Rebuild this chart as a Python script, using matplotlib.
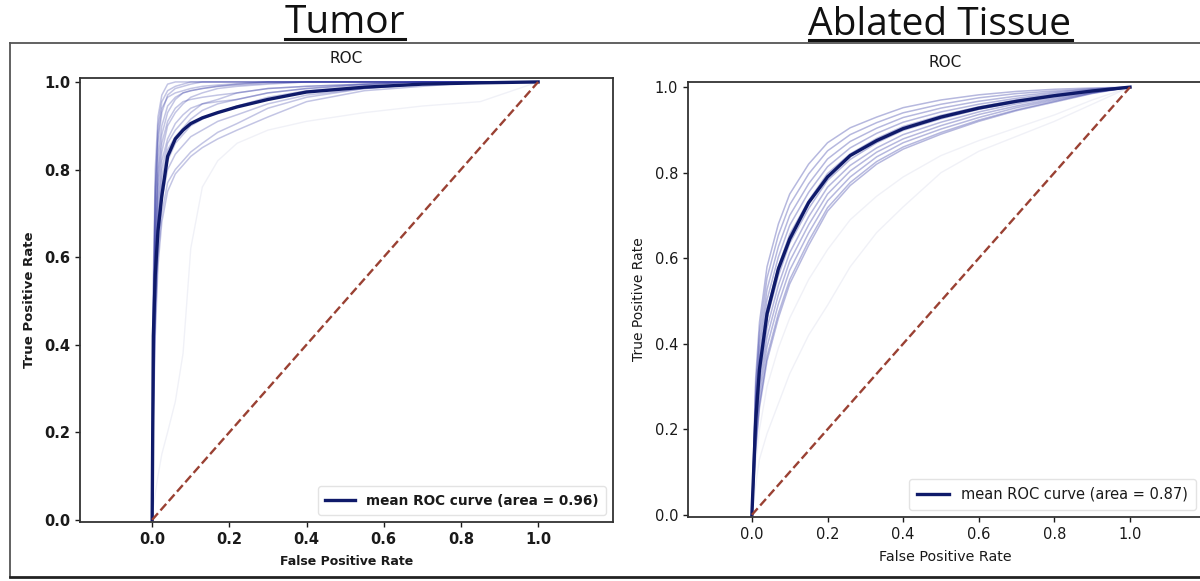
import matplotlib
matplotlib.use("Agg")
import matplotlib.pyplot as plt
from matplotlib.lines import Line2D

# ---------------- data ----------------
panel_titles = ["Tumor", "Ablated Tissue"]
axes_title = "ROC"
x_label = "False Positive Rate"
y_label = "True Positive Rate"
tick_values = [0.0, 0.2, 0.4, 0.6, 0.8, 1.0]
tick_labels = ["0.0", "0.2", "0.4", "0.6", "0.8", "1.0"]
legend_tumor = "mean ROC curve (area = 0.96)"
legend_ablated = "mean ROC curve (area = 0.87)"

# Tumor: FPR grid shared by the fold curves
fpr_tumor = [0, 0.003, 0.008, 0.015, 0.025, 0.04, 0.06, 0.08, 0.1, 0.13, 0.17, 0.22, 0.3, 0.4, 0.55, 0.7, 0.85, 1.0]
tumor_folds = [
    [0, 0.55, 0.80, 0.92, 0.97, 0.995, 1, 1, 1, 1, 1, 1, 1, 1, 1, 1, 1, 1],
    [0, 0.48, 0.76, 0.90, 0.955, 0.98, 0.99, 0.995, 1, 1, 1, 1, 1, 1, 1, 1, 1, 1],
    [0, 0.45, 0.72, 0.86, 0.93, 0.97, 0.985, 0.99, 0.995, 1, 1, 1, 1, 1, 1, 1, 1, 1],
    [0, 0.42, 0.68, 0.83, 0.90, 0.945, 0.965, 0.975, 0.98, 0.985, 0.99, 0.993, 0.997, 1, 1, 1, 1, 1],
    [0, 0.40, 0.65, 0.80, 0.88, 0.93, 0.96, 0.975, 0.98, 0.985, 0.99, 0.995, 1, 1, 1, 1, 1, 1],
    [0, 0.35, 0.60, 0.76, 0.84, 0.90, 0.93, 0.95, 0.965, 0.975, 0.985, 0.99, 0.995, 1, 1, 1, 1, 1],
    [0, 0.30, 0.55, 0.70, 0.80, 0.86, 0.89, 0.91, 0.93, 0.95, 0.96, 0.975, 0.985, 0.99, 0.995, 1, 1, 1],
    [0, 0.30, 0.52, 0.68, 0.78, 0.845, 0.875, 0.895, 0.915, 0.935, 0.95, 0.96, 0.975, 0.985, 0.993, 1, 1, 1],
    [0, 0.28, 0.50, 0.66, 0.76, 0.82, 0.86, 0.88, 0.90, 0.915, 0.93, 0.945, 0.965, 0.98, 0.99, 0.995, 1, 1],
    [0, 0.26, 0.47, 0.63, 0.73, 0.80, 0.835, 0.855, 0.875, 0.89, 0.91, 0.925, 0.95, 0.97, 0.985, 0.995, 1, 1],
    [0, 0.25, 0.45, 0.60, 0.70, 0.77, 0.80, 0.82, 0.84, 0.86, 0.885, 0.905, 0.94, 0.965, 0.985, 0.995, 1, 1],
    [0, 0.22, 0.42, 0.58, 0.68, 0.75, 0.79, 0.81, 0.83, 0.85, 0.87, 0.89, 0.92, 0.955, 0.98, 0.99, 1, 1],
    [0, 0.50, 0.75, 0.88, 0.94, 0.965, 0.975, 0.98, 0.985, 0.99, 0.993, 0.996, 1, 1, 1, 1, 1, 1],
    [0, 0.38, 0.62, 0.78, 0.86, 0.91, 0.94, 0.955, 0.96, 0.965, 0.97, 0.975, 0.985, 0.99, 0.995, 1, 1, 1],
    [0, 0.33, 0.58, 0.73, 0.82, 0.87, 0.905, 0.925, 0.94, 0.95, 0.955, 0.96, 0.975, 0.985, 0.995, 1, 1, 1],
]
tumor_outliers = [
    [0, 0.03, 0.06, 0.10, 0.15, 0.20, 0.27, 0.38, 0.62, 0.76, 0.82, 0.86, 0.89, 0.91, 0.93, 0.945, 0.955, 1.0],
]
tumor_mean = [0, 0.42, 0.56, 0.66, 0.74, 0.83, 0.87, 0.89, 0.905, 0.918, 0.93, 0.943, 0.96, 0.977, 0.988, 0.995, 0.998, 1.0]

# Ablated tissue
fpr_ablated = [0, 0.01, 0.02, 0.04, 0.07, 0.1, 0.15, 0.2, 0.26, 0.33, 0.4, 0.5, 0.6, 0.7, 0.8, 0.9, 1.0]
ablated_folds = [
    [0, 0.32, 0.45, 0.58, 0.68, 0.75, 0.82, 0.87, 0.905, 0.93, 0.952, 0.97, 0.982, 0.99, 0.995, 0.998, 1],
    [0, 0.30, 0.426, 0.554, 0.654, 0.725, 0.797, 0.851, 0.889, 0.917, 0.94, 0.96, 0.975, 0.985, 0.991, 0.996, 1],
    [0, 0.279, 0.402, 0.527, 0.627, 0.70, 0.774, 0.832, 0.873, 0.904, 0.929, 0.951, 0.967, 0.979, 0.988, 0.995, 1],
    [0, 0.26, 0.38, 0.503, 0.603, 0.677, 0.754, 0.814, 0.858, 0.892, 0.918, 0.942, 0.96, 0.974, 0.985, 0.993, 1],
    [0, 0.244, 0.36, 0.481, 0.581, 0.656, 0.735, 0.798, 0.844, 0.88, 0.908, 0.934, 0.954, 0.97, 0.982, 0.992, 1],
    [0, 0.227, 0.34, 0.459, 0.559, 0.635, 0.716, 0.782, 0.831, 0.87, 0.899, 0.926, 0.948, 0.965, 0.979, 0.991, 1],
    [0, 0.21, 0.32, 0.437, 0.537, 0.613, 0.697, 0.766, 0.817, 0.858, 0.889, 0.918, 0.942, 0.961, 0.976, 0.99, 1],
    [0, 0.193, 0.30, 0.415, 0.515, 0.593, 0.678, 0.75, 0.804, 0.848, 0.879, 0.91, 0.936, 0.956, 0.973, 0.988, 1],
    [0, 0.176, 0.28, 0.393, 0.493, 0.572, 0.659, 0.734, 0.79, 0.837, 0.87, 0.902, 0.929, 0.952, 0.97, 0.987, 1],
    [0, 0.159, 0.26, 0.371, 0.471, 0.55, 0.64, 0.718, 0.777, 0.826, 0.86, 0.894, 0.923, 0.947, 0.967, 0.986, 1],
    [0, 0.15, 0.25, 0.36, 0.46, 0.54, 0.63, 0.71, 0.77, 0.82, 0.855, 0.89, 0.92, 0.945, 0.965, 0.985, 1],
]
ablated_outliers = [
    [0, 0.07, 0.13, 0.19, 0.26, 0.33, 0.42, 0.49, 0.58, 0.66, 0.72, 0.80, 0.85, 0.885, 0.92, 0.96, 1],
    [0, 0.12, 0.20, 0.30, 0.39, 0.46, 0.55, 0.62, 0.69, 0.745, 0.79, 0.84, 0.875, 0.905, 0.935, 0.97, 1],
]
ablated_mean = [0, 0.22, 0.34, 0.47, 0.575, 0.645, 0.73, 0.79, 0.84, 0.875, 0.903, 0.93, 0.951, 0.967, 0.98, 0.991, 1]

chance = [0.0, 1.0]

# ---------------- style ----------------
FOLD_COLOR = "#2a30a0"
MEAN_COLOR = "#0f1a6a"
DIAG_COLOR = "#9a4133"
TEXT_COLOR = "#1a1a1a"
W, H = 1200, 581

fig = plt.figure(figsize=(12, 5.81), dpi=100)
fig.patch.set_facecolor("white")


def px_rect(x0, y0, x1, y1):
    return [x0 / W, 1 - y1 / H, (x1 - x0) / W, (y1 - y0) / H]


ax1 = fig.add_axes(px_rect(80, 78, 613, 522))
ax2 = fig.add_axes(px_rect(688, 82, 1203, 517))

panels = [
    dict(ax=ax1, fpr=fpr_tumor, folds=tumor_folds, outl=tumor_outliers, mean=tumor_mean,
         leg=legend_tumor, xl=(-0.187, 1.194), yl=(-0.005, 1.009), wt="bold",
         tick_fs=10.5, xlab_fs=9, ylab_fs=9.5, leg_fs=9.8, alpha=0.28),
    dict(ax=ax2, fpr=fpr_ablated, folds=ablated_folds, outl=ablated_outliers, mean=ablated_mean,
         leg=legend_ablated, xl=(-0.169, 1.193), yl=(-0.005, 1.012), wt="normal",
         tick_fs=10.5, xlab_fs=10.3, ylab_fs=10, leg_fs=10.5, alpha=0.34),
]

for p in panels:
    ax = p["ax"]
    for f in p["folds"]:
        ax.plot(p["fpr"], f, color=FOLD_COLOR, alpha=p["alpha"], lw=1.1)
    for f in p["outl"]:
        ax.plot(p["fpr"], f, color="#8890c0", alpha=0.12, lw=1.0)
    ax.plot(p["fpr"], p["mean"], color=MEAN_COLOR, lw=2.4, label=p["leg"])
    ax.plot(chance, chance, linestyle="--", color=DIAG_COLOR, lw=1.7)
    ax.set_xlim(*p["xl"])
    ax.set_ylim(*p["yl"])
    ax.set_xticks(tick_values)
    ax.set_xticklabels(tick_labels, fontweight=p["wt"])
    ax.set_yticks(tick_values)
    ax.set_yticklabels(tick_labels, fontweight=p["wt"])
    ax.tick_params(labelsize=p["tick_fs"], colors=TEXT_COLOR, length=3.5, width=1.0)
    for sp in ax.spines.values():
        sp.set_color("#333333")
        sp.set_linewidth(1.3)
    ax.set_title(axes_title, fontsize=11, pad=11, color=TEXT_COLOR)
    ax.set_xlabel(x_label, fontsize=p["xlab_fs"], color=TEXT_COLOR, labelpad=6, fontweight=p["wt"])
    ax.set_ylabel(y_label, fontsize=p["ylab_fs"], color=TEXT_COLOR, labelpad=6, fontweight=p["wt"])
    lg = ax.legend(loc="lower right", prop={"size": p["leg_fs"], "weight": p["wt"]}, frameon=True,
                   framealpha=0.8, edgecolor="#dddddd", fancybox=True, handlelength=2.2,
                   borderpad=0.55)
    for txt in lg.get_texts():
        txt.set_color(TEXT_COLOR)

# slide frame lines
frame_color = "#555555"
fig.add_artist(Line2D([10 / W, 1.0], [1 - 43 / H, 1 - 43 / H], color=frame_color, lw=1.3))
fig.add_artist(Line2D([10 / W, 10 / W], [1 - 43 / H, 1 - 577 / H], color=frame_color, lw=1.3))
fig.add_artist(Line2D([10 / W, 1.0], [1 - 577 / H, 1 - 577 / H], color="#222222", lw=2.0))

# big underlined panel titles
t1 = fig.text(345 / W, 1 - 33 / H, panel_titles[0], fontsize=28, family="Open Sans",
              ha="center", va="baseline", color="#111111")
t2 = fig.text(940 / W, 1 - 35 / H, panel_titles[1], fontsize=28, family="Open Sans",
              ha="center", va="baseline", color="#111111")
fig.canvas.draw()
renderer = fig.canvas.get_renderer()
for t, uy in ((t1, 39), (t2, 40)):
    bb = t.get_window_extent(renderer)
    fig.add_artist(Line2D([bb.x0 / W, bb.x1 / W], [1 - uy / H, 1 - uy / H],
                          color="#111111", lw=2.2))

fig.savefig("out.png", dpi=100, facecolor="white")
